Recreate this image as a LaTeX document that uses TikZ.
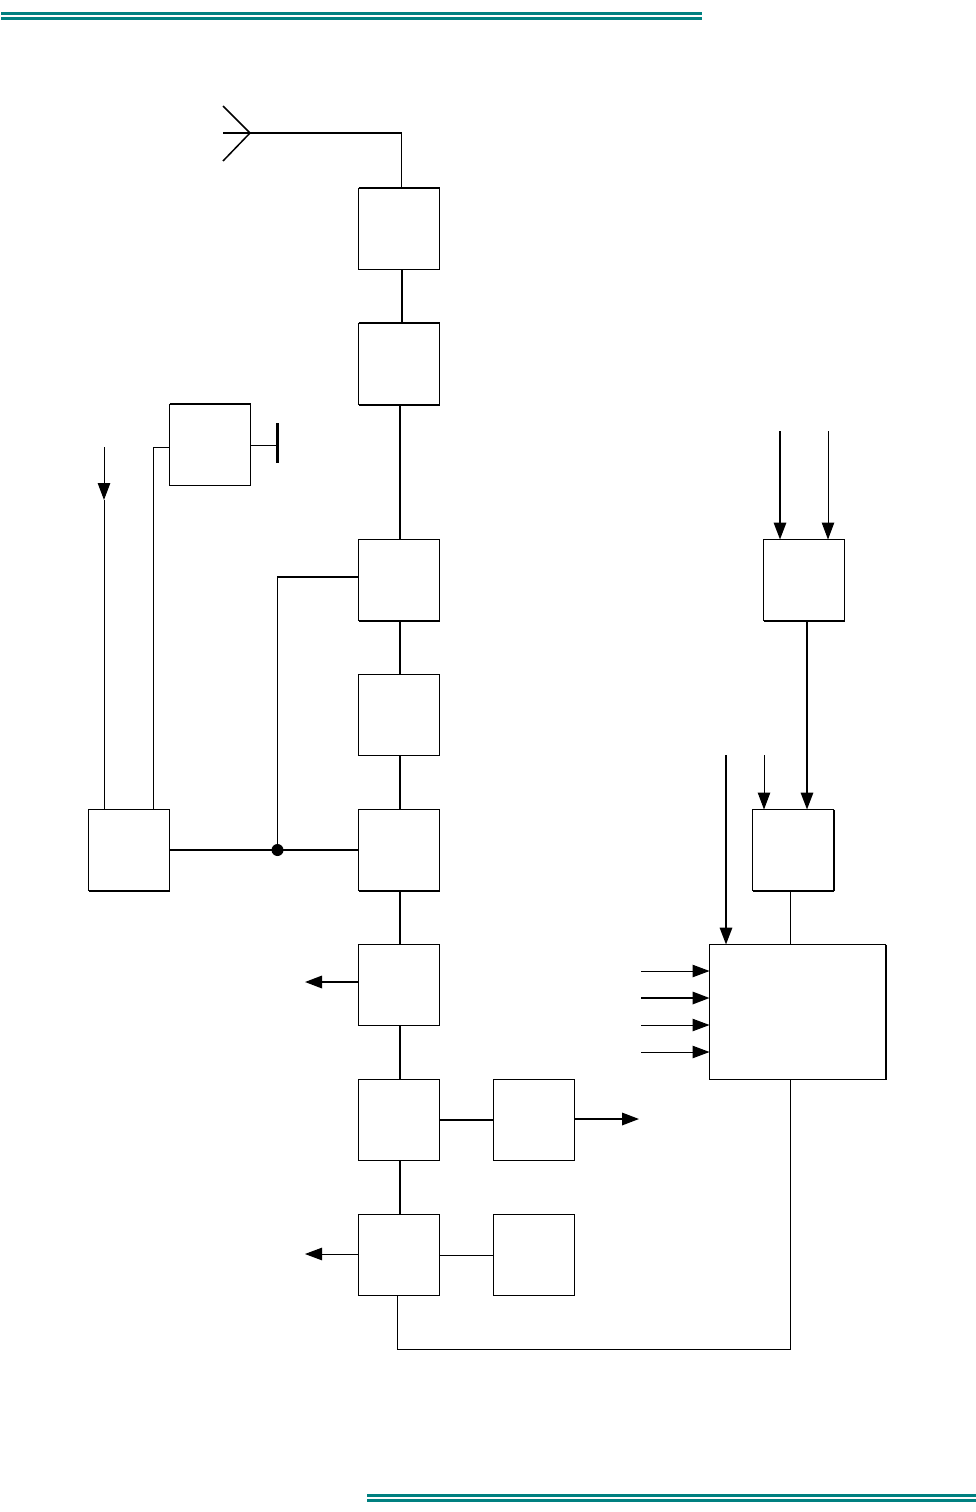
\documentclass[tikz,border=0pt]{standalone}
\usepackage{tikz}
\usetikzlibrary{arrows.meta}
\usetikzlibrary{positioning}
\definecolor{barteal}{RGB}{0,128,128}
\tikzset{
  x=1pt,y=-1pt,
  block/.style={draw,rectangle,line width=1pt,minimum width=81pt,minimum height=81pt,inner sep=0pt,outer sep=0pt},
  wire/.style={draw,line width=1pt},
  heavy/.style={draw,line width=1.7pt},
  boxedge/.style={draw,line width=2pt},
  feed/.style={draw,line width=1pt,-{Triangle[length=17pt,width=12.5pt]}},
  heavyfeed/.style={feed,line width=1.7pt},
  bar/.style={fill=barteal,draw=none}
}
\begin{document}
\begin{tikzpicture}

  \useasboundingbox (0,0) rectangle (976,1512);

  \fill [bar] (1,12) rectangle (702,15);
  \fill [bar] (1,17) rectangle (702,20);
  \fill [bar] (367,1494) rectangle (976,1497);
  \fill [bar] (367,1499) rectangle (976,1502);

  \node [block] (B1) at (399,229) {};
  \node [block] (B2) at (399,364) {};
  \node [block] (B3) at (399,580) {};
  \node [block] (B4) at (399,715) {};
  \node [block] (B5) at (399,850) {};
  \node [block] (B6) at (399,985) {};
  \node [block] (B7) at (399,1120) {};
  \node [block] (B8) at (399,1255) {};
  \node [block] (C1) at (534,1120) {};
  \node [block] (C2) at (534,1255) {};
  \node [block] (D1) at (129,850) {};
  \node [block] (D2) at (210,445) {};
  \node [block] (E1) at (804,580) {};
  \node [block] (E2) at (793,850) {};
  \node [block,minimum width=176pt,minimum height=135pt] (F) at (797.5,1012) {};

  % heavier box edges
  \foreach \n in {B1,B2,D2}
    \draw [boxedge] ([yshift=0.5pt]\n.north west) -- ([yshift=0.5pt]\n.north east);
  \foreach \n in {B2,B3,B5,D1,E1,E2}
    \draw [boxedge] (\n.south west) -- (\n.south east);
  \foreach \n in {E2,F}
    \draw [boxedge] (\n.north east) -- (\n.south east);

  \coordinate (ant) at (250,133);
  \coordinate (antU) at (223,106);
  \coordinate (antM) at (223,133);
  \coordinate (antD) at (223,161);
  \coordinate (jn) at (277.5,850);
  \coordinate (stubT) at (277,423);
  \coordinate (stubB) at (277,463);
  \coordinate (busL) at (397.5,1349);
  \coordinate (busR) at (790.5,1349);
  \coordinate (outA) at (305,982);
  \coordinate (outB) at (305,1254);
  \coordinate (outC) at (639,1119);
  \coordinate (upT) at (104,447);
  \coordinate (upA) at (104,500);

  \draw [line width=1.5pt] (antU) -- (ant) -- (antD);
  \draw [line width=1.5pt] (antM) -- (ant) -| ([xshift=2.5pt]B1.north);

  \draw [heavy] ([xshift=3pt]B1.south) -- ([xshift=3pt]B2.north);
  \draw [heavy] ([xshift=1pt]B2.south) -- ([xshift=1pt]B3.north);
  \draw [heavy] ([xshift=1pt]B3.south) -- ([xshift=1pt]B4.north);
  \draw [heavy] ([xshift=1pt]B4.south) -- ([xshift=1pt]B5.north);
  \draw [heavy] ([xshift=1pt]B5.south) -- ([xshift=1pt]B6.north);
  \draw [heavy] ([xshift=1pt]B6.south) -- ([xshift=1pt]B7.north);
  \draw [heavy] ([xshift=1pt]B7.south) -- ([xshift=1pt]B8.north);
  \draw [heavy] (B7) -- (C1);
  \draw [wire] (B8) -- (C2);
  \draw [heavy] (D1) -- (B5);
  \draw [heavy] (jn) |- ([yshift=3pt]B3.west);
  \fill (jn) circle (6pt);

  % ground stub
  \draw [wire] (D2.east) -- (D2.east -| stubT);
  \draw [line width=3pt] (stubT) -- (stubB);

  % left side
  \draw [wire] ([xshift=-16.5pt]D1.north east) |- ([yshift=-2pt]D2.west);
  \draw [feed] (upT) -- (upA);
  \draw [wire] (upA) -- (upA |- D1.north);

  % outputs
  \draw [heavyfeed] (outA -| B6.west) -- (outA);
  \draw [feed] (outB -| B8.west) -- (outB);
  \draw [heavyfeed] (outC -| C1.east) -- (outC);

  % right side
  \draw [heavyfeed] (780,431) coordinate (inA) -- (inA |- E1.north);
  \draw [feed] (828,431) coordinate (inB) -- (inB |- E1.north);
  \draw [heavyfeed] ([xshift=3pt]E1.south) -- ([xshift=14pt]E2.north);
  \draw [feed] (764,755) coordinate (inC) -- (inC |- E2.north);
  \draw [heavyfeed] (726,755) coordinate (inD) -- (inD |- F.north);
  \draw [wire] (busR |- E2.south) -- (busR |- F.north);

  \foreach \y/\sty in {971/feed,998/heavyfeed,1025/feed,1052/feed}
    \draw [\sty] (641,\y) coordinate (inF) -- (inF -| F.west);

  \draw [wire] (busR |- F.south) -- (busR) -- (busL) -- (busL |- B8.south);

\end{tikzpicture}
\end{document}
